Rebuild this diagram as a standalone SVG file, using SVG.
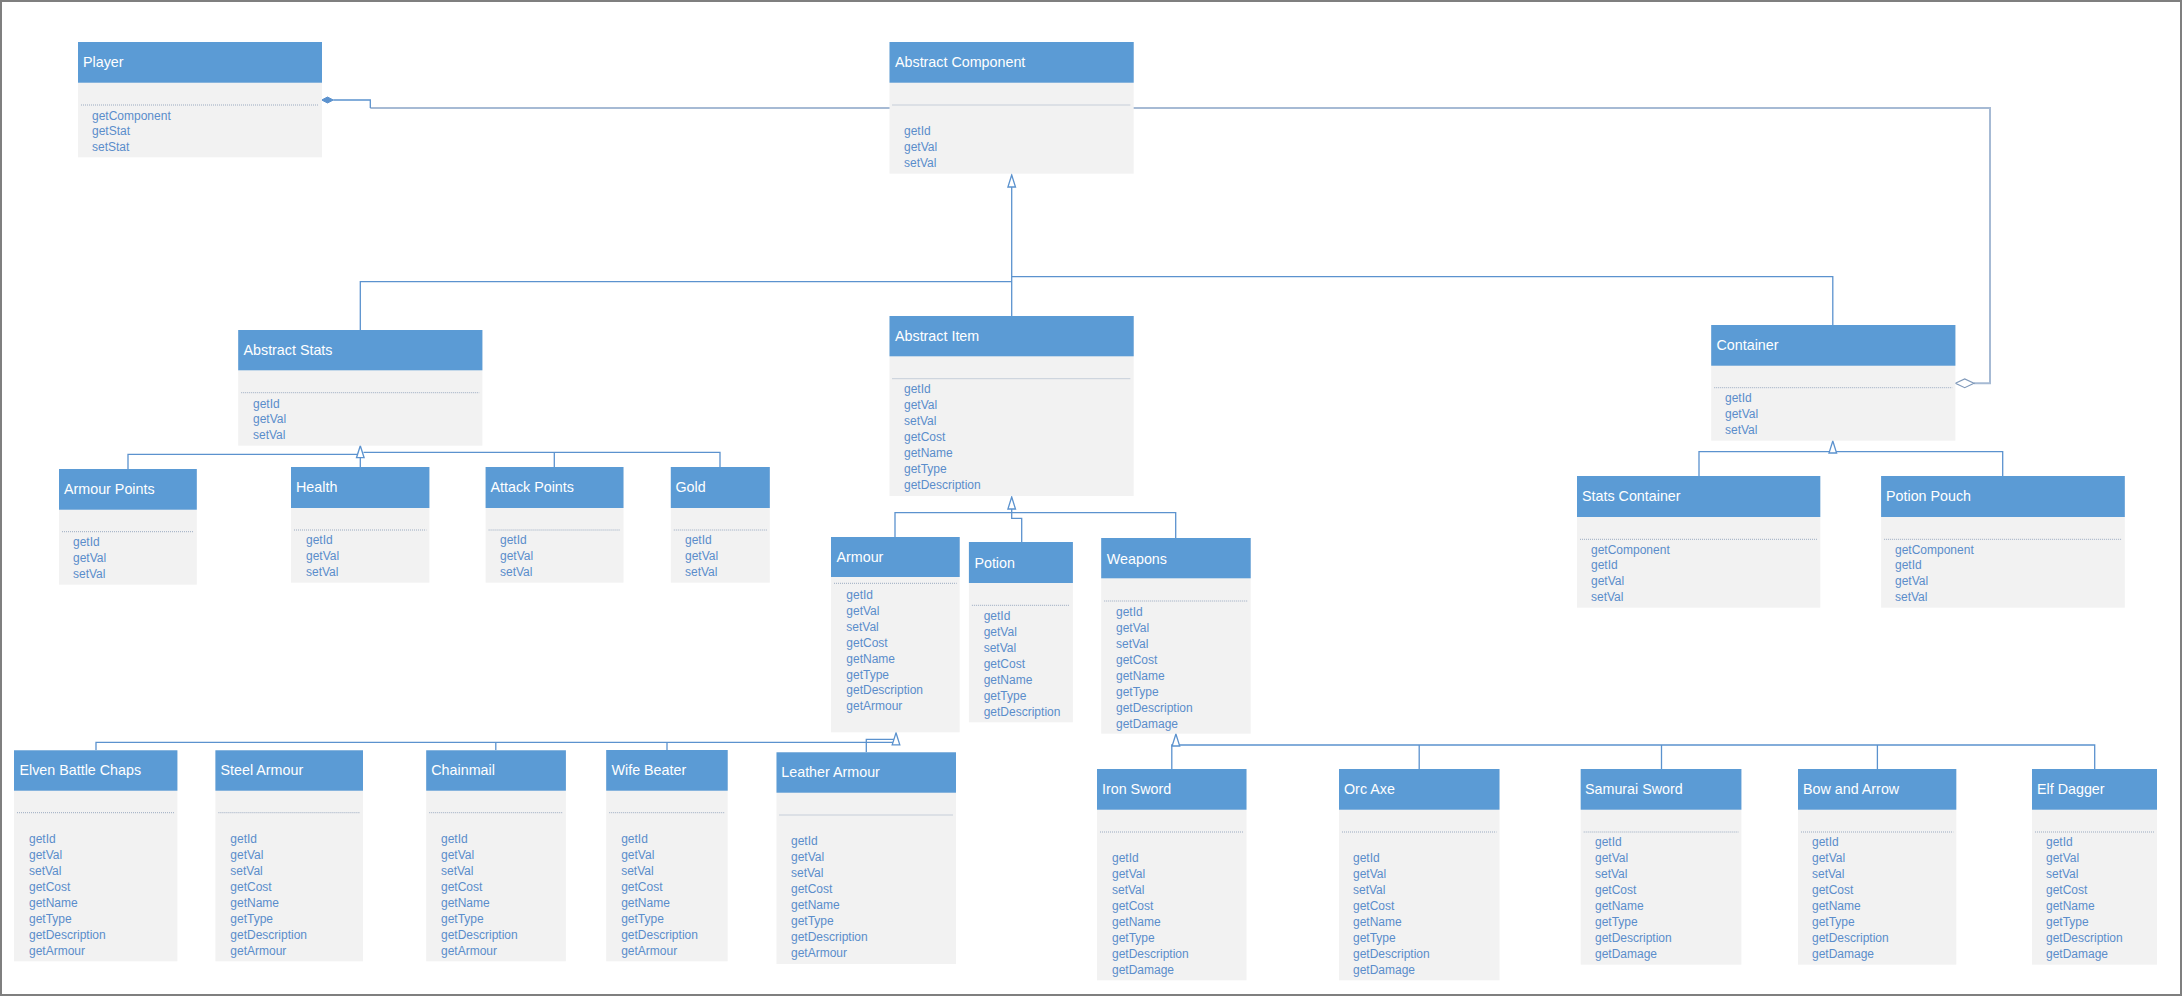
<svg xmlns="http://www.w3.org/2000/svg" xmlns:xlink="http://www.w3.org/1999/xlink" width="2182" height="996" viewBox="0 0 2182 996">
<style>
.hdr{fill:#5B9BD5}
.body{fill:#F2F2F2}
.sep{stroke:#9AAAC0;stroke-width:1;stroke-dasharray:1 1}
.title{font-family:"Liberation Sans",Arial,sans-serif;font-size:14.3px;fill:#FFFFFF}
.m{font-family:"Liberation Sans",Arial,sans-serif;font-size:12px;fill:#5A8DCB}
.c{fill:none;stroke:#5B92CE;stroke-width:1.3}
.assoc{fill:none;stroke:#A6BAD4;stroke-width:2}
.tri{fill:#FFFFFF;stroke:#5B92CE;stroke-width:1.3}
</style>
<defs>
<path id="tri" d="M0 0 L3.8 12 L-3.8 12 Z"/>
</defs>
<rect x="1" y="1" width="2180" height="994" fill="#FFFFFF" stroke="#7F7F7F" stroke-width="2"/>

<g id="connectors">
<path class="assoc" d="M370.3 108 H1990 V383.3 H1974"/>
<path class="c" d="M333.3 100 H370.3 V108"/>
<polygon points="321.7,100 327.5,97 333.3,100 327.5,103" fill="#5B92CE" stroke="#5B92CE" stroke-width="1"/>
<polygon points="1955.4,383.3 1964.7,379 1974,383.3 1964.7,387.7" fill="#FFFFFF" stroke="#7F99BA" stroke-width="1.2"/>

<path class="c" d="M1011.7 316 V187"/>
<path class="c" d="M360.3 330 V281.7 H1011.7"/>
<path class="c" d="M1832.8 325 V276.7 H1011.7"/>

<path class="c" d="M360.3 467 V457.7"/>
<path class="c" d="M128 469 V454.3 H357"/>
<path class="c" d="M363.5 452.3 H720 V467"/>
<path class="c" d="M554.3 467 V452.3"/>

<path class="c" d="M895 537 V512.7 H1175.7 V538"/>
<path class="c" d="M1011.7 509 V518.3 H1021.7 V542"/>

<path class="c" d="M96 750.3 V742.3 H893"/>
<path class="c" d="M495.8 750.3 V742.3"/>
<path class="c" d="M667 750 V742.3"/>
<path class="c" d="M866.3 752.3 V739.3 H894"/>

<path class="c" d="M1171.8 769 V745 H2094.7 V769"/>
<path class="c" d="M1419.2 769 V745"/>
<path class="c" d="M1661.5 769 V745"/>
<path class="c" d="M1877.4 769 V745"/>

<path class="c" d="M1699 476 V451.7 H2002.7 V476"/>
<path class="c" d="M1832.8 452.7 V451.7"/>

<use xlink:href="#tri" href="#tri" class="tri" transform="translate(1011.7,175)"/>
<use xlink:href="#tri" href="#tri" class="tri" transform="translate(360.3,445.7)"/>
<use xlink:href="#tri" href="#tri" class="tri" transform="translate(1011.7,497)"/>
<use xlink:href="#tri" href="#tri" class="tri" transform="translate(896,732.8)"/>
<use xlink:href="#tri" href="#tri" class="tri" transform="translate(1175.9,734)"/>
<use xlink:href="#tri" href="#tri" class="tri" transform="translate(1832.8,441)"/>
</g>

<g id="player">
<rect class="body" x="78" y="42" width="244" height="115.3"/>
<rect class="hdr" x="78" y="42" width="244" height="40.7"/>
<line class="sep" x1="81" y1="105" x2="319" y2="105"/>
<text class="title" x="83" y="67">Player</text>
<text class="m" x="92" y="119.5">getComponent</text>
<text class="m" x="92" y="135.2">getStat</text>
<text class="m" x="92" y="150.9">setStat</text>
</g>

<g id="abstract-component">
<rect class="body" x="889.5" y="42" width="244.2" height="131.7"/>
<rect class="hdr" x="889.5" y="42" width="244.2" height="40.7"/>
<line class="sep" x1="892.5" y1="105" x2="1130.7" y2="105"/>
<text class="title" x="895" y="67">Abstract Component</text>
<text class="m" x="904" y="135.2">getId</text>
<text class="m" x="904" y="151.2">getVal</text>
<text class="m" x="904" y="167.2">setVal</text>
</g>

<g id="abstract-stats">
<rect class="body" x="238.2" y="330" width="244.2" height="115.7"/>
<rect class="hdr" x="238.2" y="330" width="244.2" height="40.3"/>
<line class="sep" x1="241.2" y1="392.7" x2="479.4" y2="392.7"/>
<text class="title" x="243.5" y="355">Abstract Stats</text>
<text class="m" x="253" y="407.5">getId</text>
<text class="m" x="253" y="423.2">getVal</text>
<text class="m" x="253" y="439.2">setVal</text>
</g>

<g id="abstract-item">
<rect class="body" x="889.5" y="316" width="244.2" height="180"/>
<rect class="hdr" x="889.5" y="316" width="244.2" height="40.3"/>
<line class="sep" x1="892.5" y1="378.7" x2="1130.7" y2="378.7"/>
<text class="title" x="895" y="341">Abstract Item</text>
<text class="m" x="904" y="393.2">getId</text>
<text class="m" x="904" y="409.2">getVal</text>
<text class="m" x="904" y="425.2">setVal</text>
<text class="m" x="904" y="441.2">getCost</text>
<text class="m" x="904" y="457.2">getName</text>
<text class="m" x="904" y="473.2">getType</text>
<text class="m" x="904" y="489.2">getDescription</text>
</g>

<g id="container">
<rect class="body" x="1711.2" y="325" width="244.2" height="115.7"/>
<rect class="hdr" x="1711.2" y="325" width="244.2" height="40.7"/>
<line class="sep" x1="1714.2" y1="387.7" x2="1952.4" y2="387.7"/>
<text class="title" x="1716.5" y="350">Container</text>
<text class="m" x="1725" y="401.9">getId</text>
<text class="m" x="1725" y="418.2">getVal</text>
<text class="m" x="1725" y="433.9">setVal</text>
</g>

<g id="armour-points">
<rect class="body" x="59" y="469" width="137.8" height="115.7"/>
<rect class="hdr" x="59" y="469" width="137.8" height="40.7"/>
<line class="sep" x1="62" y1="531.7" x2="193.8" y2="531.7"/>
<text class="title" x="64" y="494">Armour Points</text>
<text class="m" x="73" y="545.9">getId</text>
<text class="m" x="73" y="562.2">getVal</text>
<text class="m" x="73" y="578.2">setVal</text>
</g>

<g id="health">
<rect class="body" x="291" y="467" width="138.4" height="115.7"/>
<rect class="hdr" x="291" y="467" width="138.4" height="41"/>
<line class="sep" x1="294" y1="530" x2="426.4" y2="530"/>
<text class="title" x="296" y="492">Health</text>
<text class="m" x="306" y="544.2">getId</text>
<text class="m" x="306" y="560.2">getVal</text>
<text class="m" x="306" y="576.2">setVal</text>
</g>

<g id="attack-points">
<rect class="body" x="485.6" y="467" width="137.9" height="115.7"/>
<rect class="hdr" x="485.6" y="467" width="137.9" height="41"/>
<line class="sep" x1="488.6" y1="530" x2="620.5" y2="530"/>
<text class="title" x="490.5" y="492">Attack Points</text>
<text class="m" x="500" y="544.2">getId</text>
<text class="m" x="500" y="560.2">getVal</text>
<text class="m" x="500" y="576.2">setVal</text>
</g>

<g id="gold">
<rect class="body" x="670.8" y="467" width="99" height="115.7"/>
<rect class="hdr" x="670.8" y="467" width="99" height="41"/>
<line class="sep" x1="673.8" y1="530" x2="766.8" y2="530"/>
<text class="title" x="675.5" y="492">Gold</text>
<text class="m" x="685" y="544.2">getId</text>
<text class="m" x="685" y="560.2">getVal</text>
<text class="m" x="685" y="576.2">setVal</text>
</g>

<g id="stats-container">
<rect class="body" x="1577" y="476" width="243.3" height="131.7"/>
<rect class="hdr" x="1577" y="476" width="243.3" height="41"/>
<line class="sep" x1="1580" y1="539.3" x2="1817.3" y2="539.3"/>
<text class="title" x="1582" y="501">Stats Container</text>
<text class="m" x="1591" y="553.5">getComponent</text>
<text class="m" x="1591" y="569.2">getId</text>
<text class="m" x="1591" y="585.2">getVal</text>
<text class="m" x="1591" y="601.2">setVal</text>
</g>

<g id="potion-pouch">
<rect class="body" x="1881.1" y="476" width="243.7" height="131.7"/>
<rect class="hdr" x="1881.1" y="476" width="243.7" height="41"/>
<line class="sep" x1="1884.1" y1="539.3" x2="2121.8" y2="539.3"/>
<text class="title" x="1886" y="501">Potion Pouch</text>
<text class="m" x="1895" y="553.5">getComponent</text>
<text class="m" x="1895" y="569.2">getId</text>
<text class="m" x="1895" y="585.2">getVal</text>
<text class="m" x="1895" y="601.2">setVal</text>
</g>

<g id="armour">
<rect class="body" x="831" y="537" width="128.7" height="195.3"/>
<rect class="hdr" x="831" y="537" width="128.7" height="40"/>
<line class="sep" x1="834" y1="583.3" x2="956.7" y2="583.3"/>
<text class="title" x="836.5" y="562">Armour</text>
<text class="m" x="846.3" y="598.5">getId</text>
<text class="m" x="846.3" y="614.5">getVal</text>
<text class="m" x="846.3" y="630.5">setVal</text>
<text class="m" x="846.3" y="646.5">getCost</text>
<text class="m" x="846.3" y="662.5">getName</text>
<text class="m" x="846.3" y="678.5">getType</text>
<text class="m" x="846.3" y="693.5">getDescription</text>
<text class="m" x="846.3" y="709.5">getArmour</text>
</g>

<g id="potion">
<rect class="body" x="968.9" y="542" width="104" height="180.3"/>
<rect class="hdr" x="968.9" y="542" width="104" height="41"/>
<line class="sep" x1="971.9" y1="605.3" x2="1069.9" y2="605.3"/>
<text class="title" x="974.4" y="568.3">Potion</text>
<text class="m" x="983.7" y="619.5">getId</text>
<text class="m" x="983.7" y="635.5">getVal</text>
<text class="m" x="983.7" y="651.5">setVal</text>
<text class="m" x="983.7" y="667.5">getCost</text>
<text class="m" x="983.7" y="683.5">getName</text>
<text class="m" x="983.7" y="699.5">getType</text>
<text class="m" x="983.7" y="715.5">getDescription</text>
</g>

<g id="weapons">
<rect class="body" x="1101.2" y="538" width="149.5" height="195.7"/>
<rect class="hdr" x="1101.2" y="538" width="149.5" height="40.3"/>
<line class="sep" x1="1104.2" y1="601" x2="1247.7" y2="601"/>
<text class="title" x="1106.8" y="563.5">Weapons</text>
<text class="m" x="1116" y="615.5">getId</text>
<text class="m" x="1116" y="631.5">getVal</text>
<text class="m" x="1116" y="647.5">setVal</text>
<text class="m" x="1116" y="663.5">getCost</text>
<text class="m" x="1116" y="679.5">getName</text>
<text class="m" x="1116" y="695.5">getType</text>
<text class="m" x="1116" y="711.5">getDescription</text>
<text class="m" x="1116" y="727.5">getDamage</text>
</g>

<g id="elven-battle-chaps">
<rect class="body" x="14" y="750.3" width="163.4" height="211"/>
<rect class="hdr" x="14" y="750.3" width="163.4" height="40.4"/>
<line class="sep" x1="17" y1="812.7" x2="174.4" y2="812.7"/>
<text class="title" x="19.5" y="775.3">Elven Battle Chaps</text>
<text class="m" x="29" y="843.2">getId</text>
<text class="m" x="29" y="859.2">getVal</text>
<text class="m" x="29" y="875.2">setVal</text>
<text class="m" x="29" y="891.2">getCost</text>
<text class="m" x="29" y="907.2">getName</text>
<text class="m" x="29" y="923.2">getType</text>
<text class="m" x="29" y="939.2">getDescription</text>
<text class="m" x="29" y="955.2">getArmour</text>
</g>

<g id="steel-armour">
<rect class="body" x="215.4" y="750.3" width="147.6" height="211"/>
<rect class="hdr" x="215.4" y="750.3" width="147.6" height="40.4"/>
<line class="sep" x1="218.4" y1="812.7" x2="360" y2="812.7"/>
<text class="title" x="220.5" y="775.3">Steel Armour</text>
<text class="m" x="230.3" y="843.2">getId</text>
<text class="m" x="230.3" y="859.2">getVal</text>
<text class="m" x="230.3" y="875.2">setVal</text>
<text class="m" x="230.3" y="891.2">getCost</text>
<text class="m" x="230.3" y="907.2">getName</text>
<text class="m" x="230.3" y="923.2">getType</text>
<text class="m" x="230.3" y="939.2">getDescription</text>
<text class="m" x="230.3" y="955.2">getArmour</text>
</g>

<g id="chainmail">
<rect class="body" x="426.2" y="750.3" width="139.7" height="211"/>
<rect class="hdr" x="426.2" y="750.3" width="139.7" height="40.4"/>
<line class="sep" x1="429.2" y1="812.7" x2="562.9" y2="812.7"/>
<text class="title" x="431.3" y="775.3">Chainmail</text>
<text class="m" x="441" y="843.2">getId</text>
<text class="m" x="441" y="859.2">getVal</text>
<text class="m" x="441" y="875.2">setVal</text>
<text class="m" x="441" y="891.2">getCost</text>
<text class="m" x="441" y="907.2">getName</text>
<text class="m" x="441" y="923.2">getType</text>
<text class="m" x="441" y="939.2">getDescription</text>
<text class="m" x="441" y="955.2">getArmour</text>
</g>

<g id="wife-beater">
<rect class="body" x="606.2" y="750" width="121.5" height="211.3"/>
<rect class="hdr" x="606.2" y="750" width="121.5" height="40.7"/>
<line class="sep" x1="609.2" y1="812.7" x2="724.7" y2="812.7"/>
<text class="title" x="611.5" y="775.3">Wife Beater</text>
<text class="m" x="621.2" y="843.2">getId</text>
<text class="m" x="621.2" y="859.2">getVal</text>
<text class="m" x="621.2" y="875.2">setVal</text>
<text class="m" x="621.2" y="891.2">getCost</text>
<text class="m" x="621.2" y="907.2">getName</text>
<text class="m" x="621.2" y="923.2">getType</text>
<text class="m" x="621.2" y="939.2">getDescription</text>
<text class="m" x="621.2" y="955.2">getArmour</text>
</g>

<g id="leather-armour">
<rect class="body" x="776.5" y="752.3" width="179.5" height="211.7"/>
<rect class="hdr" x="776.5" y="752.3" width="179.5" height="40.4"/>
<line class="sep" x1="779.5" y1="815" x2="953" y2="815"/>
<text class="title" x="781.3" y="777.3">Leather Armour</text>
<text class="m" x="791" y="845.2">getId</text>
<text class="m" x="791" y="861.2">getVal</text>
<text class="m" x="791" y="877.2">setVal</text>
<text class="m" x="791" y="893.2">getCost</text>
<text class="m" x="791" y="909.2">getName</text>
<text class="m" x="791" y="925.2">getType</text>
<text class="m" x="791" y="941.2">getDescription</text>
<text class="m" x="791" y="957.2">getArmour</text>
</g>

<g id="iron-sword">
<rect class="body" x="1097" y="769" width="149.5" height="211.3"/>
<rect class="hdr" x="1097" y="769" width="149.5" height="40.7"/>
<line class="sep" x1="1100" y1="832" x2="1243.5" y2="832"/>
<text class="title" x="1102" y="794">Iron Sword</text>
<text class="m" x="1112" y="862.2">getId</text>
<text class="m" x="1112" y="878.2">getVal</text>
<text class="m" x="1112" y="894.2">setVal</text>
<text class="m" x="1112" y="910.2">getCost</text>
<text class="m" x="1112" y="926.2">getName</text>
<text class="m" x="1112" y="942.2">getType</text>
<text class="m" x="1112" y="958.2">getDescription</text>
<text class="m" x="1112" y="974.2">getDamage</text>
</g>

<g id="orc-axe">
<rect class="body" x="1339" y="769" width="160.5" height="211.3"/>
<rect class="hdr" x="1339" y="769" width="160.5" height="40.7"/>
<line class="sep" x1="1342" y1="832" x2="1496.5" y2="832"/>
<text class="title" x="1344" y="794">Orc Axe</text>
<text class="m" x="1353" y="862.2">getId</text>
<text class="m" x="1353" y="878.2">getVal</text>
<text class="m" x="1353" y="894.2">setVal</text>
<text class="m" x="1353" y="910.2">getCost</text>
<text class="m" x="1353" y="926.2">getName</text>
<text class="m" x="1353" y="942.2">getType</text>
<text class="m" x="1353" y="958.2">getDescription</text>
<text class="m" x="1353" y="974.2">getDamage</text>
</g>

<g id="samurai-sword">
<rect class="body" x="1580.7" y="769" width="160.7" height="195.7"/>
<rect class="hdr" x="1580.7" y="769" width="160.7" height="40.7"/>
<line class="sep" x1="1583.7" y1="832" x2="1738.4" y2="832"/>
<text class="title" x="1585" y="794">Samurai Sword</text>
<text class="m" x="1595" y="846.2">getId</text>
<text class="m" x="1595" y="862.2">getVal</text>
<text class="m" x="1595" y="878.2">setVal</text>
<text class="m" x="1595" y="894.2">getCost</text>
<text class="m" x="1595" y="910.2">getName</text>
<text class="m" x="1595" y="926.2">getType</text>
<text class="m" x="1595" y="942.2">getDescription</text>
<text class="m" x="1595" y="958.2">getDamage</text>
</g>

<g id="bow-and-arrow">
<rect class="body" x="1798" y="769" width="158.3" height="195.7"/>
<rect class="hdr" x="1798" y="769" width="158.3" height="40.7"/>
<line class="sep" x1="1801" y1="832" x2="1953.3" y2="832"/>
<text class="title" x="1803" y="794">Bow and Arrow</text>
<text class="m" x="1812" y="846.2">getId</text>
<text class="m" x="1812" y="862.2">getVal</text>
<text class="m" x="1812" y="878.2">setVal</text>
<text class="m" x="1812" y="894.2">getCost</text>
<text class="m" x="1812" y="910.2">getName</text>
<text class="m" x="1812" y="926.2">getType</text>
<text class="m" x="1812" y="942.2">getDescription</text>
<text class="m" x="1812" y="958.2">getDamage</text>
</g>

<g id="elf-dagger">
<rect class="body" x="2032" y="769" width="125" height="195.7"/>
<rect class="hdr" x="2032" y="769" width="125" height="40.7"/>
<line class="sep" x1="2035" y1="832" x2="2154" y2="832"/>
<text class="title" x="2037" y="794">Elf Dagger</text>
<text class="m" x="2046" y="846.2">getId</text>
<text class="m" x="2046" y="862.2">getVal</text>
<text class="m" x="2046" y="878.2">setVal</text>
<text class="m" x="2046" y="894.2">getCost</text>
<text class="m" x="2046" y="910.2">getName</text>
<text class="m" x="2046" y="926.2">getType</text>
<text class="m" x="2046" y="942.2">getDescription</text>
<text class="m" x="2046" y="958.2">getDamage</text>
</g>
</svg>
